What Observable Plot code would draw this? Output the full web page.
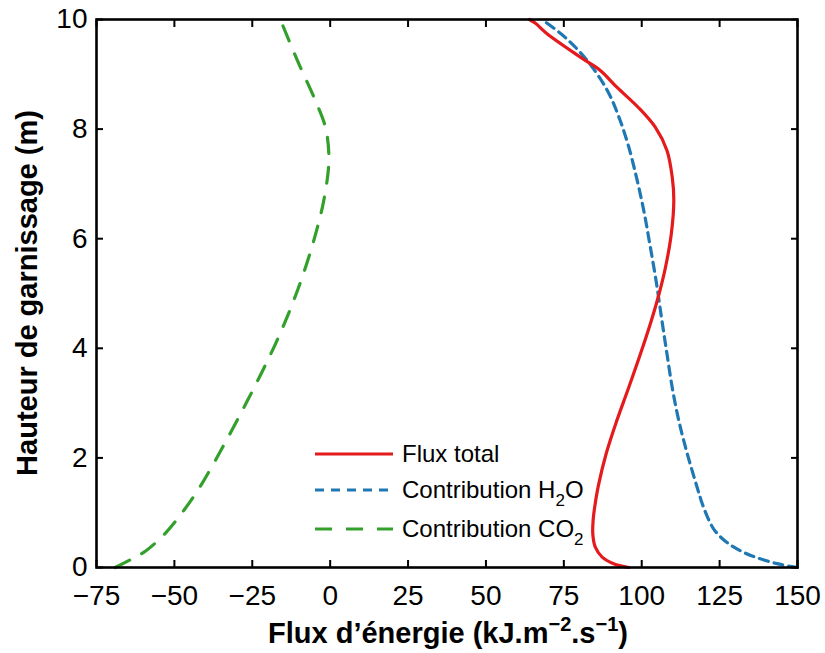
<!DOCTYPE html>
<html>
<head>
<meta charset="utf-8">
<script src="https://cdn.jsdelivr.net/npm/d3@7"></script>
<script src="https://cdn.jsdelivr.net/npm/@observablehq/plot@0.6"></script>
<style>
  html, body { margin: 0; padding: 0; background: #fff; }
  #chart { width: 825px; height: 653px; }
</style>
</head>
<body>
<div id="chart"></div>
<script>
// ---- Data ----
// Flux total
const totalHeight = [0, 0.07, 0.19, 0.37, 0.61, 0.86, 1.1, 1.47, 2.08, 2.68, 3.28, 3.9, 4.49, 5.0, 5.47, 6.09, 6.70, 7.12, 7.61, 8.03, 8.39, 8.76, 9.07, 9.29, 9.74, 9.93, 10];
const totalFlux   = [95.9, 91.0, 87.3, 85.1, 84.3, 84.4, 84.9, 86.0, 88.6, 92.0, 95.8, 99.6, 103.0, 105.6, 107.6, 109.5, 110.3, 109.8, 108.1, 104.4, 99.0, 92.1, 86.7, 80.9, 69.6, 65.9, 64];
// Contribution H2O
const h2oHeight = [0, 0.07, 0.22, 0.37, 0.52, 0.71, 0.99, 1.22, 1.46, 2.08, 2.68, 3.28, 3.9, 4.5, 5.2, 5.9, 6.5, 7.1, 7.7, 8.2, 8.7, 9.25, 9.67, 10];
const h2oFlux   = [150, 143.4, 135.0, 129.6, 126.0, 123.0, 120.6, 119.1, 117.8, 114.6, 111.9, 109.8, 108.1, 106.5, 104.7, 102.6, 100.7, 98.4, 95.7, 92.8, 89.0, 82.5, 75.5, 68];
// Contribution CO2
const co2Height = [0, 0.16, 0.31, 0.62, 1.04, 1.47, 1.95, 2.5, 3.05, 3.6, 4.1, 4.6, 5.1, 5.6, 6.1, 6.6, 7.1, 7.5, 8.03, 8.58, 9.25, 10];
const co2Flux   = [-69, -63.5, -59, -53, -47, -41.8, -36.9, -31.6, -26.5, -21.6, -17.4, -13.6, -10.2, -7.2, -4.6, -2.4, -0.9, -0.4, -1.5, -5.2, -10.5, -16];

const xTicks = [-75, -50, -25, 0, 25, 50, 75, 100, 125, 150];
const yTicks = [0, 2, 4, 6, 8, 10];

const seriesNames = ["Flux total", "Contribution H", "Contribution CO"];
const seriesColors = ["#e41a1c", "#1f78b4", "#33a02c"];

const toRows = (hs, xs) => hs.map((h, i) => ({h, x: xs[i]}));
const totalRows = toRows(totalHeight, totalFlux);
const h2oRows = toRows(h2oHeight, h2oFlux);
const co2Rows = toRows(co2Height, co2Flux);

const font = "'Liberation Sans', Arial, Helvetica, sans-serif";
const minusFmt = d => (d < 0 ? "\u2212" + Math.abs(d) : String(d));

const chart = Plot.plot({
  width: 825,
  height: 653,
  marginLeft: 96,
  marginRight: 28,
  marginTop: 19,
  marginBottom: 86,
  x: {domain: [-75, 150]},
  y: {domain: [0, 10]},
  style: {fontFamily: font, fontSize: "28px", color: "#000", background: "#fff", overflow: "visible"},
  marks: [
    Plot.line(co2Rows, {x: "x", y: "h", stroke: seriesColors[2], strokeWidth: 3.2, strokeDasharray: "16,14", curve: "catmull-rom"}),
    Plot.line(h2oRows, {x: "x", y: "h", stroke: seriesColors[1], strokeWidth: 3.2, strokeDasharray: "9,6", curve: "catmull-rom"}),
    Plot.line(totalRows, {x: "x", y: "h", stroke: seriesColors[0], strokeWidth: 3.2, curve: "catmull-rom"}),
    Plot.axisX(xTicks, {anchor: "bottom", tickSize: -7, tickPadding: 25, strokeWidth: 2, label: null, fontSize: 28, tickFormat: minusFmt}),
    Plot.axisX(xTicks, {anchor: "top", tickSize: -7, strokeWidth: 2, label: null, tickFormat: () => ""}),
    Plot.axisY(yTicks, {anchor: "left", tickSize: -7, tickPadding: 16, strokeWidth: 2, label: null, fontSize: 28, tickFormat: minusFmt}),
    Plot.axisY(yTicks, {anchor: "right", tickSize: -7, strokeWidth: 2, label: null, tickFormat: () => ""}),
    Plot.frame({stroke: "#000", strokeWidth: 2.6})
  ]
});

document.getElementById("chart").appendChild(chart);

const svg = d3.select(chart);

// X axis title
const xt = svg.append("text")
  .attr("x", 448).attr("y", 643)
  .attr("text-anchor", "middle")
  .attr("font-family", font).attr("font-weight", "bold").attr("font-size", 29)
  .attr("fill", "#000");
xt.append("tspan").text("Flux d\u2019\u00e9nergie (kJ.m");
xt.append("tspan").attr("font-size", 20).attr("dy", -12).text("\u22122");
xt.append("tspan").attr("dy", 12).text(".s");
xt.append("tspan").attr("font-size", 20).attr("dy", -12).text("\u22121");
xt.append("tspan").attr("dy", 12).text(")");

// Y axis title
svg.append("text")
  .attr("transform", "translate(37,293) rotate(-90)")
  .attr("text-anchor", "middle")
  .attr("font-family", font).attr("font-weight", "bold").attr("font-size", 29)
  .attr("fill", "#000")
  .text("Hauteur de garnissage (m)");

// Legend
const legendRows = [454, 490, 529];
const dashes = [null, "9,7", "17,14"];
const subs = [null, "2", "2"];
const tails = [null, "O", ""];
const lg = svg.append("g");
seriesNames.forEach((name, i) => {
  const y = legendRows[i];
  const ln = lg.append("line")
    .attr("x1", 315).attr("x2", 393).attr("y1", y).attr("y2", y)
    .attr("stroke", seriesColors[i]).attr("stroke-width", 3.2);
  if (dashes[i]) ln.attr("stroke-dasharray", dashes[i]);
  const t = lg.append("text")
    .attr("x", 402).attr("y", y + 8)
    .attr("text-anchor", "start")
    .attr("font-family", font).attr("font-size", 24).attr("fill", "#000");
  t.append("tspan").text(name);
  if (subs[i]) {
    t.append("tspan").attr("font-size", 17).attr("dy", 8).text(subs[i]);
    if (tails[i]) t.append("tspan").attr("dy", -8).text(tails[i]);
  }
});
</script>
</body>
</html>
